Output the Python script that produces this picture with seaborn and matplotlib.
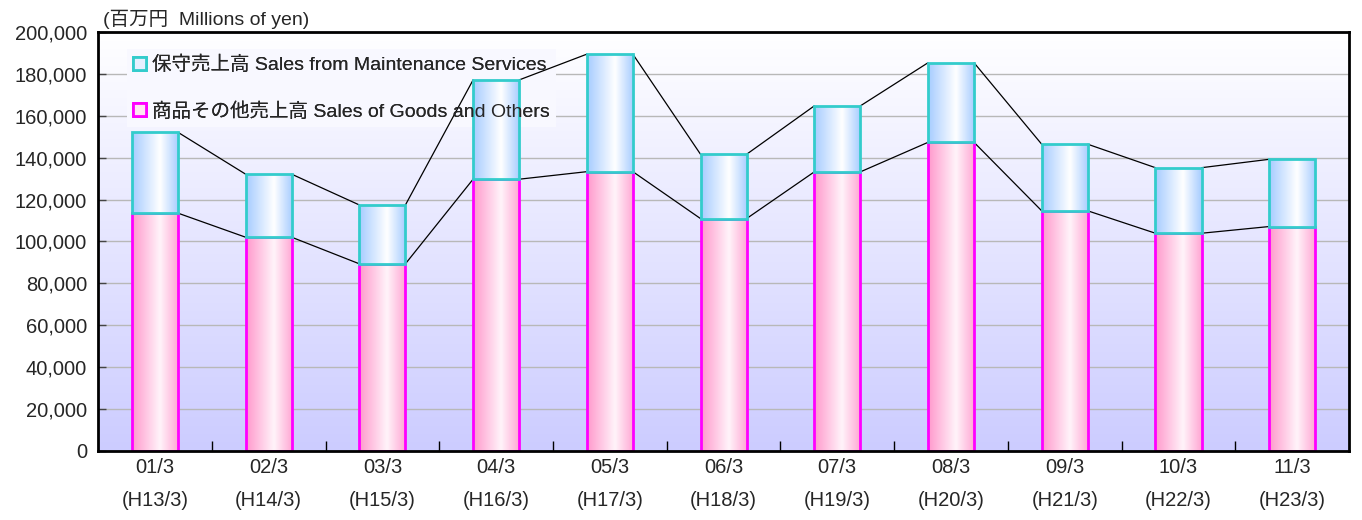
import numpy as np
import pandas as pd
import seaborn as sns
import matplotlib.pyplot as plt
from matplotlib.colors import LinearSegmentedColormap
from matplotlib.patches import Patch

# 決算期ラベル
periods = ['01/3', '02/3', '03/3', '04/3', '05/3', '06/3', '07/3', '08/3', '09/3', '10/3', '11/3']
heisei = ['(H13/3)', '(H14/3)', '(H15/3)', '(H16/3)', '(H17/3)', '(H18/3)',
          '(H19/3)', '(H20/3)', '(H21/3)', '(H22/3)', '(H23/3)']
# 商品その他売上高 / 合計 (百万円)
goods = [113500, 102000, 89300, 129700, 133300, 110900, 133200, 147300, 114600, 103900, 107100]
totals = [152100, 132100, 117400, 177100, 189400, 141600, 164700, 185300, 146400, 135200, 139200]
yticks = [0, 20000, 40000, 60000, 80000, 100000, 120000, 140000, 160000, 180000, 200000]

label_maint = '保守売上高 Sales from Maintenance Services'
label_goods = '商品その他売上高 Sales of Goods and Others'

df = pd.DataFrame({
    'period': periods,
    'goods': goods,
    'maint': np.array(totals) - np.array(goods),
})

sns.set_theme(style='white')
plt.rcParams['font.family'] = ['Liberation Sans', 'Noto Sans CJK JP']

fig = plt.figure(figsize=(13.62, 5.2), dpi=100)
ax = fig.add_axes([0.072, 0.133, 0.9185, 0.8055])

bw = 0.405
sns.barplot(data=df, x='period', y='goods', ax=ax, width=bw, color='#ffc0e0',
            edgecolor='#ff00ff', linewidth=2, zorder=3)
sns.barplot(data=df, x='period', y='maint', ax=ax, width=bw, color='#c0dcff',
            edgecolor='#33cccc', linewidth=2, zorder=4)

pink_cm = LinearSegmentedColormap.from_list('pink', [(0, '#ff99cc'), (0.6, '#fff4fa'), (1, '#ffa6d3')])
blue_cm = LinearSegmentedColormap.from_list('blue', [(0, '#a6ccff'), (0.6, '#ffffff'), (1, '#a6ccff')])
grad = np.linspace(0, 1, 128).reshape(1, -1)

# 積み上げ＋グラデーション
for cont, cm, z in [(ax.containers[0], pink_cm, 2.9), (ax.containers[1], blue_cm, 3.9)]:
    for i, p in enumerate(cont.patches):
        if cont is ax.containers[1]:
            p.set_y(goods[i])
        x0, y0 = p.get_x(), p.get_y()
        im = ax.imshow(grad, cmap=cm, extent=[x0, x0 + p.get_width(), y0, y0 + p.get_height()],
                       aspect='auto', zorder=z, interpolation='bicubic')
        im.set_clip_path(p)
        p.set_facecolor('none')

# 系列線
for i in range(len(periods) - 1):
    ax.plot([i + bw / 2, i + 1 - bw / 2], [goods[i], goods[i + 1]], color='black', lw=0.9, zorder=2.5)
    ax.plot([i + bw / 2, i + 1 - bw / 2], [totals[i], totals[i + 1]], color='black', lw=0.9, zorder=2.5)

# 背景グラデーション
bg_cm = LinearSegmentedColormap.from_list('bg', ['#ffffff', '#ccccff'])
ax.imshow(np.linspace(0, 1, 256).reshape(-1, 1), cmap=bg_cm,
          extent=[-0.5, len(periods) - 0.5, 0, 200000], aspect='auto', zorder=0)

ax.set_xlim(-0.5, len(periods) - 0.5)
ax.set_ylim(0, 200000)
ax.set_axisbelow(True)
ax.yaxis.grid(True, color='#b8b8b8', lw=1)
ax.set_yticks(yticks)
ax.set_yticklabels([f'{v:,}' for v in yticks], fontsize=14.5)
ax.set_xticks(range(len(periods)))
ax.set_xticklabels([f'{a}\n{b}' for a, b in zip(periods, heisei)], fontsize=14.5, linespacing=1.95)
ax.set_xticks(np.arange(0.5, len(periods) - 1, 1), minor=True)
ax.tick_params(axis='x', which='major', length=0, pad=5)
ax.tick_params(axis='x', which='minor', direction='in', length=7, width=1, color='black', bottom=True)
ax.tick_params(axis='y', direction='in', length=6, width=1, color='#444444', left=True, pad=8)
ax.set_xlabel('')
ax.set_ylabel('')
for s in ax.spines.values():
    s.set_color('black')
    s.set_linewidth(2)
    s.set_zorder(6)

ax.text(0.004, 1.006, '(百万円  Millions of yen)', transform=ax.transAxes,
        ha='left', va='bottom', fontsize=14)

handles = [Patch(facecolor='#e6f0ff', edgecolor='#33cccc', lw=2, label=label_maint),
           Patch(facecolor='#ffe6f2', edgecolor='#ff00ff', lw=2, label=label_goods)]
leg_kw = dict(handles=handles, loc='upper left', bbox_to_anchor=(0.015, 0.983), fontsize=14,
              fancybox=False, handlelength=0.65, handleheight=0.65, handletextpad=0.3,
              labelspacing=1.45, borderpad=0.35)
# 凡例の背景は棒の下、文字は棒の上
leg_bg = ax.legend(frameon=True, facecolor='#f8f8ff', edgecolor='none', framealpha=1, **leg_kw)
leg_bg.set_zorder(1)
ax.add_artist(leg_bg)
leg = ax.legend(frameon=False, **leg_kw)
leg.set_zorder(7)

fig.savefig('out.png', dpi=100)
